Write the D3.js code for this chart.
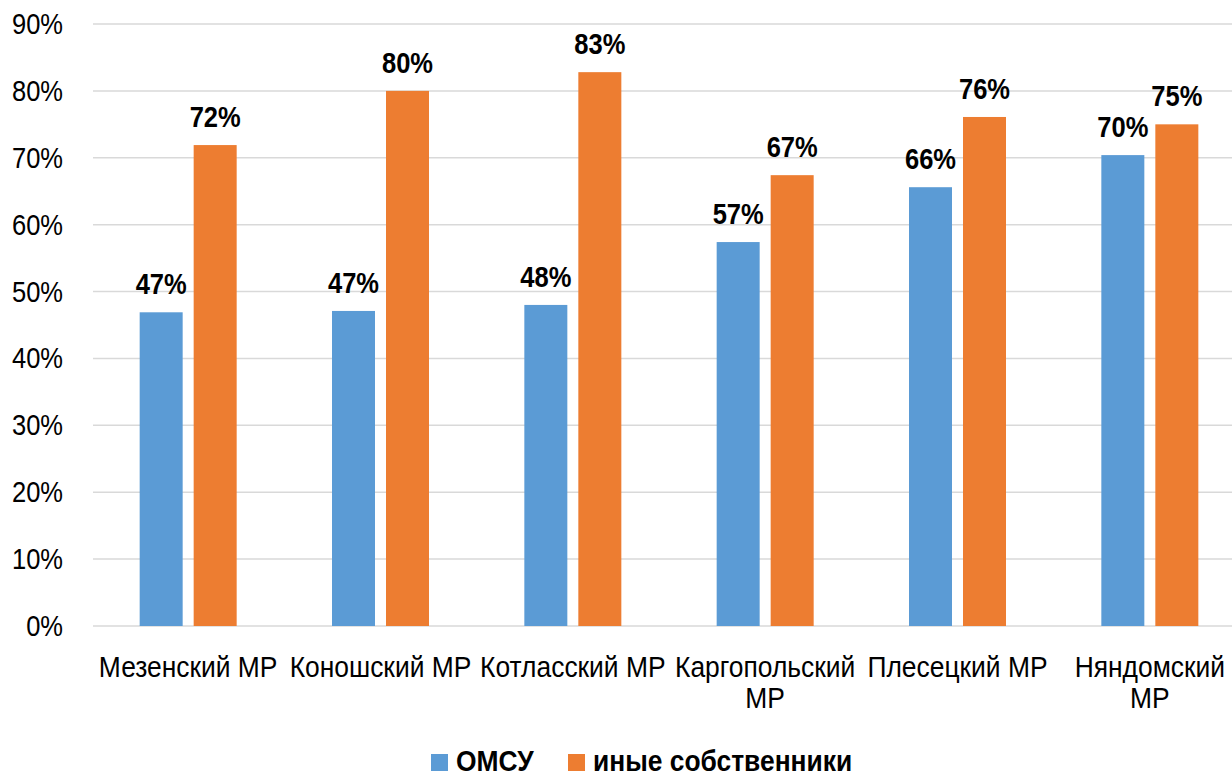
<!DOCTYPE html>
<html><head><meta charset="utf-8">
<script src="https://cdn.jsdelivr.net/npm/d3@7"></script>
<style>body{margin:0;background:#fff}svg{display:block}text{font-family:"Liberation Sans",Arial,sans-serif;fill:#000}</style>
</head><body><svg id="c" width="1232" height="776"></svg>
<script>
const categories = ["Мезенский МР","Коношский МР","Котласский МР","Каргопольский МР","Плесецкий МР","Няндомский МР"];
const seriesNames = ["ОМСУ","иные собственники"];
const omsu = [0.469, 0.471, 0.480, 0.574, 0.656, 0.704];
const others = [0.719, 0.800, 0.828, 0.674, 0.761, 0.750];
const omsuLabels = ["47%","47%","48%","57%","66%","70%"];
const othersLabels = ["72%","80%","83%","67%","76%","75%"];
const yTicks = [0,0.1,0.2,0.3,0.4,0.5,0.6,0.7,0.8,0.9];
const colors = ["#5b9bd5","#ed7d31"];

const SX = 0.88;
const W = 1232;
const svg = d3.select("#c");
const y = d3.scaleLinear().domain([0,0.9]).range([626,24]);
const x = d3.scaleBand().domain(categories).range([92,1246]).padding(0);
const inner = d3.scaleBand().domain(seriesNames).range([-48.5,48.5]).paddingInner(11/54).paddingOuter(0);

function txt(g, tx, ty, s, opts){
  const t = g.append("text").attr("transform",`translate(${tx},${ty}) scale(${SX},1)`).text(s);
  if(opts.anchor) t.attr("text-anchor",opts.anchor);
  t.attr("font-size",opts.size||28);
  if(opts.bold) t.attr("font-weight","bold");
  return t;
}

// gridlines
const grid = svg.append("g");
yTicks.forEach(v=>{
  grid.append("line").attr("x1",93).attr("x2",W).attr("y1",y(v)).attr("y2",y(v))
    .attr("stroke","#d9d9d9").attr("stroke-width",1.5);
  txt(svg, 63, y(v)+10, d3.format(".0%")(v), {anchor:"end", size:29});
});

const data = [omsu, others];
const labs = [omsuLabels, othersLabels];
const bars = svg.append("g");
seriesNames.forEach((s,si)=>{
  categories.forEach((c,ci)=>{
    const cx = x(c)+x.bandwidth()/2;
    const bx = cx + inner(s);
    bars.append("rect").attr("x",bx).attr("width",inner.bandwidth())
      .attr("y",y(data[si][ci])).attr("height",y(0)-y(data[si][ci]))
      .attr("fill",colors[si]);
    txt(svg, bx+inner.bandwidth()/2, y(data[si][ci])-18, labs[si][ci], {anchor:"middle", size:29, bold:true});
  });
});

// category labels with wrapping
const meas = svg.append("text").attr("font-size",30).attr("opacity",0);
categories.forEach(c=>{
  const cx = x(c)+x.bandwidth()/2;
  meas.text(c);
  const w = meas.node().getComputedTextLength()*SX;
  let lines = [c];
  if(w > x.bandwidth() + 2 || cx + w/2 > W - 2){
    const i = c.lastIndexOf(" ");
    lines = [c.slice(0,i), c.slice(i+1)];
  }
  lines.forEach((l,li)=> txt(svg, cx, 677+li*31, l, {anchor:"middle", size:30}));
});
meas.remove();

// legend
const leg = svg.append("g");
const legX = [431, 568];
seriesNames.forEach((s,i)=>{
  leg.append("rect").attr("x",legX[i]).attr("y",754).attr("width",17).attr("height",17).attr("fill",colors[i]);
  txt(leg, legX[i]+25, 771, s, {size:30, bold:true});
});
</script></body></html>
